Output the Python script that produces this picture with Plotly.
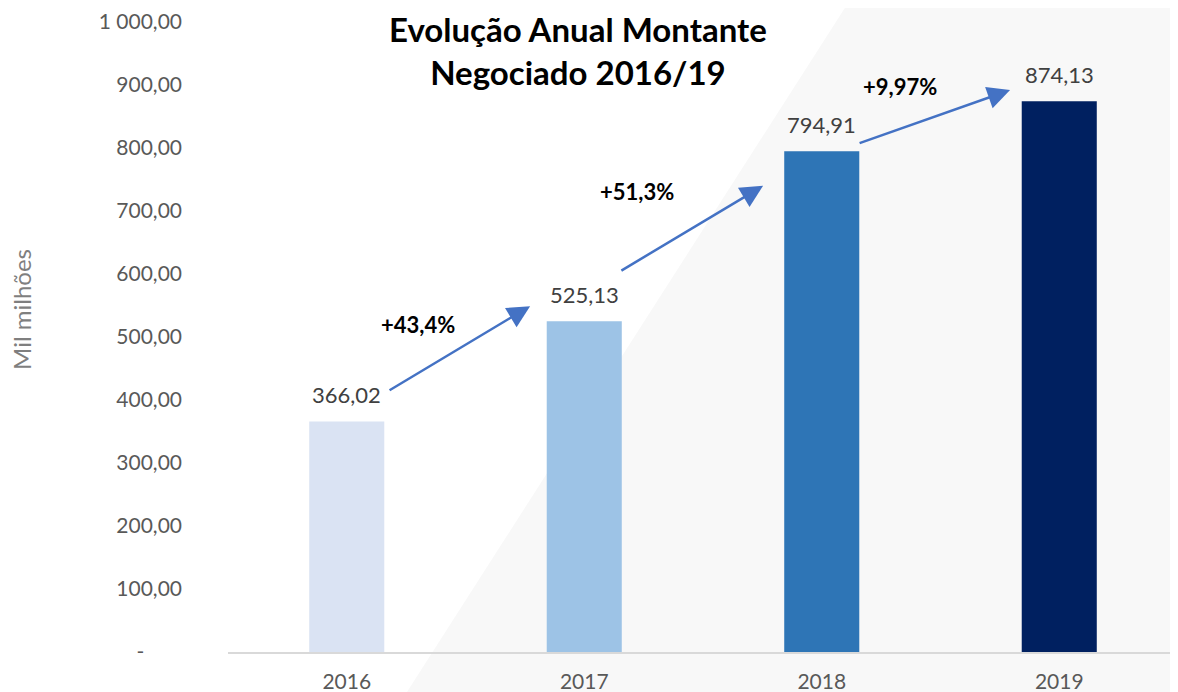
import plotly.graph_objects as go

# ---- data ----
years = ["2016", "2017", "2018", "2019"]
values = [366.02, 525.13, 794.91, 874.13]
bar_colors = ["#DAE3F3", "#9DC3E6", "#2E75B6", "#002060"]
growth_labels = ["+43,4%", "+51,3%", "+9,97%"]
y_tickvals = [0, 100, 200, 300, 400, 500, 600, 700, 800, 900, 1000]
y_ticktext = ["-" + "\u00a0" * 7, "100,00", "200,00", "300,00", "400,00", "500,00",
              "600,00", "700,00", "800,00", "900,00", "1 000,00"]

FONT = "Lato, 'Open Sans', sans-serif"

fig = go.Figure()
fig.add_trace(go.Bar(
    x=list(range(len(years))), y=values,
    marker=dict(color=bar_colors, line=dict(width=0)),
    width=0.316, hoverinfo="skip",
))

annotations = []
# data labels
for i, v in enumerate(values):
    annotations.append(dict(
        x=i, y=v, xref="x", yref="y", text=f"{v:.2f}".replace(".", ","),
        showarrow=False, yanchor="bottom", yshift=11,
        font=dict(family=FONT, size=22, color="#404040"),
    ))

# growth arrows (tail -> head in data units) and labels
arrows = [((0.174, 414), (0.772, 549)),
          ((1.15, 604), (1.753, 740)),
          ((2.153, 807), (2.793, 892))]
label_pos = [(0.30, 520), (1.223, 731), (2.33, 897)]
for (tail, head), lab, pos in zip(arrows, growth_labels, label_pos):
    annotations.append(dict(
        x=head[0], y=head[1], ax=tail[0], ay=tail[1],
        xref="x", yref="y", axref="x", ayref="y",
        text="", showarrow=True, arrowhead=2, arrowsize=1.8, arrowwidth=2.5,
        arrowcolor="#4472C4", standoff=0, startstandoff=0,
    ))
    annotations.append(dict(
        x=pos[0], y=pos[1], xref="x", yref="y", text=f"<b>{lab}</b>",
        showarrow=False, font=dict(family=FONT, size=22, color="#000000"),
    ))

# title
annotations.append(dict(
    x=0.368, y=0.954, xref="paper", yref="paper", xanchor="center", yanchor="middle",
    text="<b>Evolução Anual Montante<br>Negociado 2016/19</b>", showarrow=False,
    font=dict(family=FONT, size=33, color="#000000"), align="center", borderpad=0,
))
# y-axis title
annotations.append(dict(
    x=-0.2168, y=0.543, xref="paper", yref="paper", xanchor="center", yanchor="middle",
    text="Mil milhões", textangle=-90, showarrow=False,
    font=dict(family=FONT, size=24, color="#7F7F7F"),
))

shapes = [dict(
    type="path", xref="paper", yref="paper", layer="below",
    path="M 0.6547 1.0349 L 1.0 1.0349 L 1.0 -0.0635 L 0.1884 -0.0635 Z",
    fillcolor="#F8F8F8", line=dict(width=0),
)]

# page body has an 8px margin, so the figure is 8px smaller and offsets shrink
fig.update_layout(
    width=1170, height=684,
    margin=dict(l=220, r=0, t=14, b=40),
    paper_bgcolor="white", plot_bgcolor="rgba(0,0,0,0)",
    showlegend=False, bargap=0.68,
    annotations=annotations, shapes=shapes,
    font=dict(family=FONT),
    xaxis=dict(
        range=[-0.5, 3.5], tickvals=list(range(len(years))), ticktext=years,
        showline=True, linecolor="#D9D9D9", linewidth=2, showgrid=False,
        zeroline=False, ticks="", ticklabelstandoff=10,
        tickfont=dict(family=FONT, size=21, color="#595959"), automargin=False,
        ticklabeloverflow="allow",
    ),
    yaxis=dict(
        range=[0, 1000], tickvals=y_tickvals, ticktext=y_ticktext,
        showline=False, showgrid=False, zeroline=False, ticks="",
        ticklabelstandoff=45, ticklabeloverflow="allow",
        tickfont=dict(family=FONT, size=21, color="#595959"), automargin=False,
    ),
)

fig.write_html("out.html")
